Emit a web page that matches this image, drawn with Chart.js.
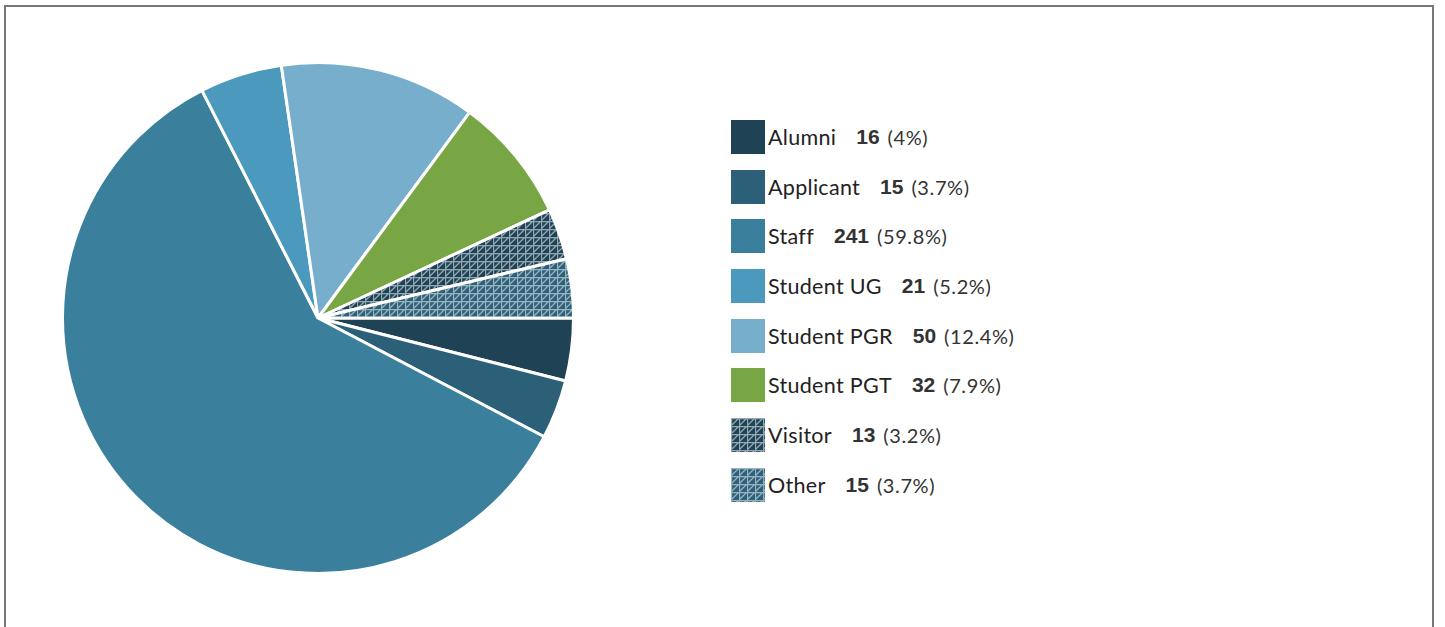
<!DOCTYPE html>
<html>
<head>
<meta charset="utf-8">
<script src="https://cdn.jsdelivr.net/npm/chart.js@4/dist/chart.umd.min.js"></script>
<style>
  html, body { margin: 0; padding: 0; background: #fff; overflow: hidden; }
  body { width: 1445px; height: 627px; position: relative; }
  .frame {
    position: absolute; left: 4px; top: 5px; width: 1430px; height: 700px;
    border: 2px solid #777; box-sizing: border-box;
  }
  .pie-wrap { position: absolute; left: 61px; top: 61px; width: 514px; height: 514px; }
  .legend { position: absolute; left: 731px; top: 120px; font-family: Lato, "Open Sans", sans-serif; color: #222; }
  .legend-row { display: flex; align-items: center; height: 34px; margin-bottom: 15.7px; white-space: pre; }
  .legend-box { width: 34px; height: 34px; margin-right: 3px; flex: none; }
  .legend-label { font-size: 21.5px; letter-spacing: 0.3px; }
  .legend-value { font-family: "Liberation Sans", Arial, sans-serif; font-weight: bold; font-size: 21px; margin-left: 20px; margin-right: 8px; color: #333; }
  .legend-pct { font-size: 20px; letter-spacing: 0.6px; color: #333; }
</style>
</head>
<body>
<div class="frame"></div>
<div class="pie-wrap"><canvas id="chart-pie"></canvas></div>
<div class="legend" id="legend"></div>

<script>
// Dados do gráfico
const categorias = ['Alumni', 'Applicant', 'Staff', 'Student UG', 'Student PGR', 'Student PGT', 'Visitor', 'Other'];
const valores = [16, 15, 241, 21, 50, 32, 13, 15];
const percentuais = ['4%', '3.7%', '59.8%', '5.2%', '12.4%', '7.9%', '3.2%', '3.7%'];
const cores = ['#1f4354', '#2c5f78', '#3a7f9c', '#4b99bd', '#76aecb', '#79a645', '#1f4354', '#2e6079'];
const comPadrao = [false, false, false, false, false, false, true, true];

// Padrão de grade com diagonal (Visitor / Other)
function makePatternCanvas(base) {
  const size = 8;
  const c = document.createElement('canvas');
  c.width = size;
  c.height = size;
  const g = c.getContext('2d');
  g.fillStyle = base;
  g.fillRect(0, 0, size, size);
  g.strokeStyle = 'rgba(225, 236, 242, 0.6)';
  g.lineWidth = 1.3;
  g.beginPath();
  g.moveTo(0, 0.5); g.lineTo(size, 0.5);
  g.moveTo(0.5, 0); g.lineTo(0.5, size);
  g.moveTo(-1, size + 1); g.lineTo(size + 1, -1);
  g.stroke();
  return c;
}

const ctx = document.getElementById('chart-pie');
const fills = cores.map((cor, i) => {
  if (!comPadrao[i]) return cor;
  return ctx.getContext('2d').createPattern(makePatternCanvas(cor), 'repeat');
});

new Chart(ctx, {
  type: 'pie',
  data: {
    labels: categorias,
    datasets: [{
      data: valores,
      backgroundColor: fills,
      borderColor: '#ffffff',
      borderWidth: 3
    }]
  },
  options: {
    responsive: true,
    maintainAspectRatio: true,
    animation: false,
    rotation: 90,
    layout: { padding: 0 },
    plugins: {
      legend: { display: false },
      tooltip: { enabled: false }
    }
  }
});

// Legenda em HTML
const legend = document.getElementById('legend');
categorias.forEach((nome, i) => {
  const row = document.createElement('div');
  row.className = 'legend-row';
  const box = document.createElement('div');
  box.className = 'legend-box';
  if (comPadrao[i]) {
    box.style.backgroundImage = 'url(' + makePatternCanvas(cores[i]).toDataURL() + ')';
  } else {
    box.style.background = cores[i];
  }
  const label = document.createElement('span');
  label.className = 'legend-label';
  label.textContent = nome;
  const valor = document.createElement('span');
  valor.className = 'legend-value';
  valor.textContent = valores[i];
  const pct = document.createElement('span');
  pct.className = 'legend-pct';
  pct.textContent = '(' + percentuais[i] + ')';
  row.append(box, label, valor, pct);
  legend.appendChild(row);
});
</script>
</body>
</html>
